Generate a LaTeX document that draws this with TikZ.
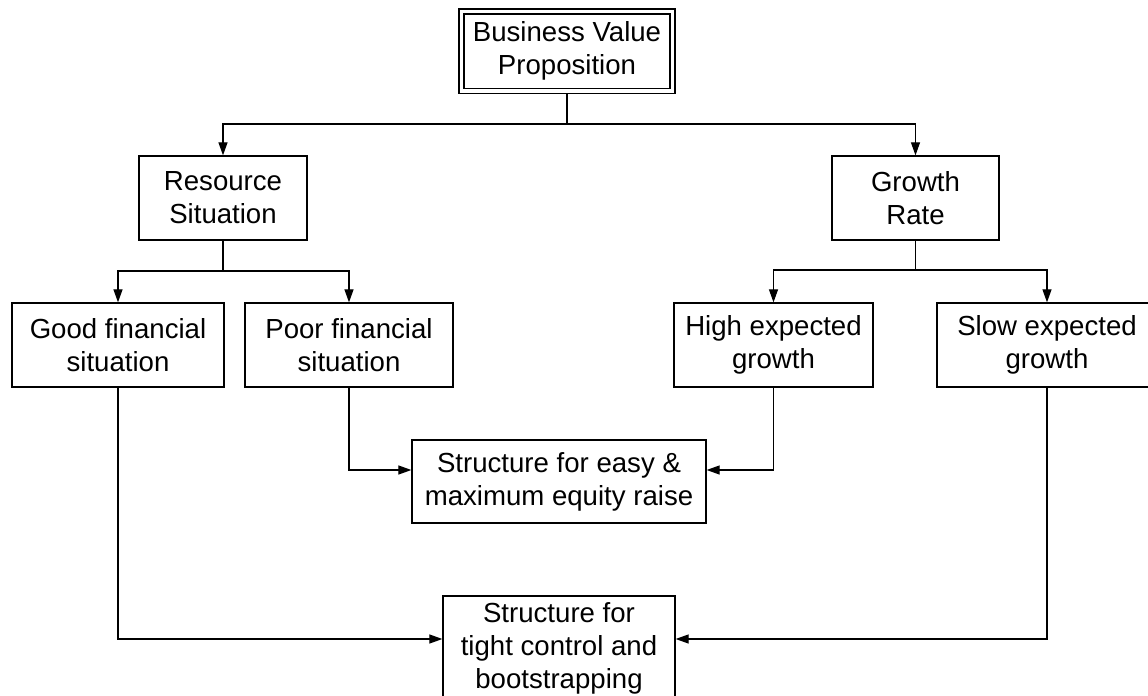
\documentclass[tikz,border=0pt]{standalone}
\usepackage{fontspec}
\setmainfont{Liberation Sans}
\usetikzlibrary{arrows.meta}

\begin{document}
\begin{tikzpicture}[x=0.5pt,y=-0.5pt]
    \tikzstyle{every node} = [font=\fontsize{13.8}{16.5}\selectfont]
    \tikzstyle{block} = [draw, rectangle, line width=0.65pt, align=center, minimum height=42pt, inner sep=0pt]
    \tikzstyle{wire} = [line width=0.6pt]
    \tikzstyle{link} = [wire, -{Triangle[length=6.5pt,width=4.5pt]}]
    \useasboundingbox (0,0) rectangle (1148,696);
    % place nodes
    \node[block, double, double distance=1.85pt, outer sep=1.6pt, minimum width=105.5pt, minimum height=39.75pt] (valueProp) at (567,51.25) {Business Value\\Proposition};
    \node[block, minimum width=84pt] (resSituation) at (223,198) {Resource\\Situation};
    \node[block, minimum width=83.5pt] (growthRate) at (915.5,198) {Growth\\Rate};
    \node[block, minimum width=106pt] (goodFin) at (118,345) {Good financial\\situation};
    \node[block, minimum width=104pt] (poorFin) at (349,345) {Poor financial\\situation};
    \node[block, minimum width=99.5pt] (highGrowth) at (773.5,345) {High expected\\growth};
    \node[block, minimum width=110pt] (slowGrowth) at (1047,345) {Slow expected\\growth};
    \node[block, minimum width=147pt, minimum height=41.5pt] (equityRaise) at (559,481.5) {Structure for easy \&\\maximum equity raise};
    \node[block, minimum width=116pt, minimum height=52pt] (bootstrap) at (559,648) {Structure for\\tight control and\\bootstrapping};

    % split points
    \coordinate (topSplit) at (567,124);
    \coordinate (resSplit) at (223,271);
    \coordinate (growthSplit) at (915.5,270);

    % Connections
    \draw[wire] (valueProp.south) -- (topSplit);
    \draw[link] (topSplit) -| (resSituation.north);
    \draw[link] (topSplit) -| (growthRate.north);

    \draw[wire] (resSituation.south) -- (resSplit);
    \draw[link] (resSplit) -| (goodFin.north);
    \draw[link] (resSplit) -| (poorFin.north);

    \draw[wire] (growthRate.south) -- (growthSplit);
    \draw[link] (growthSplit) -| (highGrowth.north);
    \draw[link] (growthSplit) -| (slowGrowth.north);

    \draw[link] (poorFin.south) |- ([yshift=5.75pt]equityRaise.west);
    \draw[link] (highGrowth.south) |- ([yshift=5.75pt]equityRaise.east);

    \draw[link] (goodFin.south) |- ([yshift=4.5pt]bootstrap.west);
    \draw[link] (slowGrowth.south) |- ([yshift=4.5pt]bootstrap.east);
\end{tikzpicture}
\end{document}
